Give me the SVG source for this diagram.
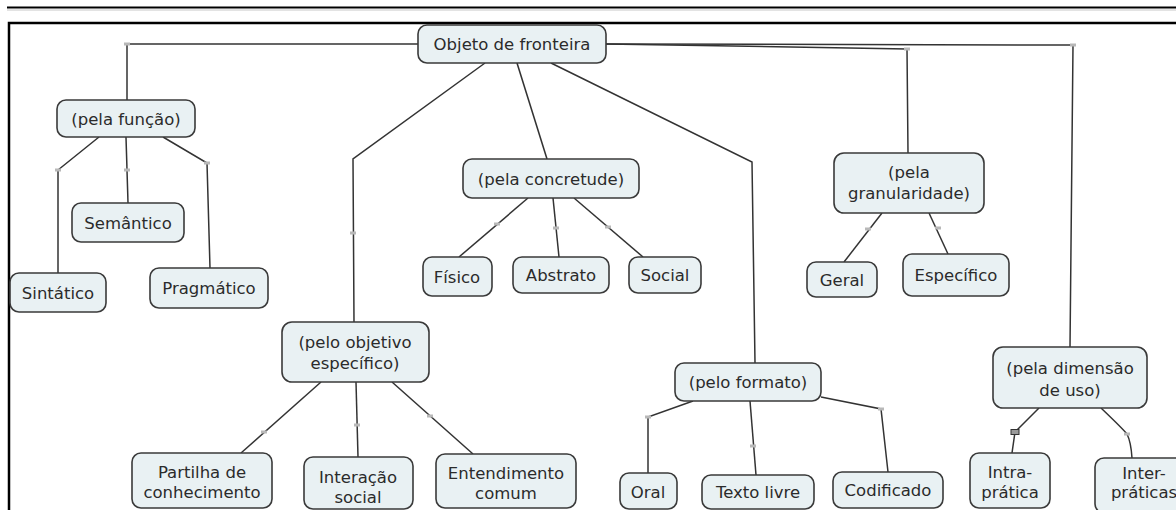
<svg xmlns="http://www.w3.org/2000/svg" width="1176" height="510" viewBox="0 0 1176 510">
<style>
.n rect{fill:#e9f1f3;stroke:#3a3a3a;stroke-width:1.6}
.n text{font-family:"DejaVu Sans",Verdana,sans-serif;font-size:16.5px;fill:#2b2b2b;text-anchor:middle;dominant-baseline:central}
.c{fill:none;stroke:#333;stroke-width:1.5}
.lp{fill:#b8b8b8;stroke:none}
</style>
<rect x="0" y="0" width="1176" height="510" fill="#ffffff"/>
<line x1="7" y1="7.5" x2="1176" y2="7.5" stroke="#000" stroke-width="2"/>
<line x1="7" y1="10" x2="1176" y2="10" stroke="#c8c8c8" stroke-width="1"/>
<rect x="9" y="23" width="1200" height="520" fill="none" stroke="#000" stroke-width="2.5"/>

<g id="connectors">
<polyline class="c" points="418,44 127,44 127,100"/>
<polyline class="c" points="485,63 353,159 354,322"/>
<polyline class="c" points="517,63 547,159"/>
<polyline class="c" points="551,63 752,162 755,363"/>
<polyline class="c" points="606,44 907,49 908,153"/>
<polyline class="c" points="606,44 1073,45 1070,347"/>
<polyline class="c" points="99,137 58,170 58,273"/>
<polyline class="c" points="126,137 128,203"/>
<polyline class="c" points="163,137 207,163 210,268"/>
<polyline class="c" points="528,198 459,257"/>
<polyline class="c" points="553,198 559,257"/>
<polyline class="c" points="574,198 643,257"/>
<polyline class="c" points="882,213 844,262"/>
<polyline class="c" points="929,213 948,254"/>
<polyline class="c" points="321,382 241,453"/>
<polyline class="c" points="356,382 358,457"/>
<polyline class="c" points="392,382 473,454"/>
<polyline class="c" points="693,401 648,417 648,473"/>
<polyline class="c" points="750,401 756,475"/>
<polyline class="c" points="821,397 881,409 888,472"/>
<polyline class="c" points="1039,408 1015,432 1012,453"/>
<path class="c" d="M1101,408 Q1122,428 1127,434 Q1131,442 1132,458"/>
<rect class="lp" x="124" y="42.5" width="6" height="3"/>
<rect class="lp" x="350" y="231.5" width="6" height="3"/>
<rect class="lp" x="904" y="47.5" width="6" height="3"/>
<rect class="lp" x="1070" y="43.5" width="6" height="3"/>
<rect class="lp" x="55" y="168.5" width="6" height="3"/>
<rect class="lp" x="124" y="168.5" width="6" height="3"/>
<rect class="lp" x="204" y="161.5" width="6" height="3"/>
<rect class="lp" x="494" y="222.5" width="6" height="3"/>
<rect class="lp" x="553" y="226.5" width="6" height="3"/>
<rect class="lp" x="605" y="225.5" width="6" height="3"/>
<rect class="lp" x="865" y="227.5" width="6" height="3"/>
<rect class="lp" x="935" y="226.5" width="6" height="3"/>
<rect class="lp" x="261" y="430.5" width="6" height="3"/>
<rect class="lp" x="354" y="423.5" width="6" height="3"/>
<rect class="lp" x="427" y="414.5" width="6" height="3"/>
<rect class="lp" x="645" y="415.5" width="6" height="3"/>
<rect class="lp" x="750" y="444.5" width="6" height="3"/>
<rect class="lp" x="878" y="407.5" width="6" height="3"/>
<rect class="lp" x="1124" y="432.5" width="6" height="3"/>
<rect x="1011" y="429.5" width="8" height="5" fill="#9a9a9a" stroke="#333" stroke-width="1"/>
</g>

<g id="n_objeto" class="n"><rect x="418" y="25" width="188" height="38" rx="9"/><text x="512" y="44">Objeto de fronteira</text></g>
<g id="n_funcao" class="n"><rect x="57" y="100" width="138" height="37" rx="9"/><text x="126" y="119">(pela função)</text></g>
<g id="n_semantico" class="n"><rect x="72" y="203" width="112" height="39" rx="9"/><text x="128" y="223">Semântico</text></g>
<g id="n_sintatico" class="n"><rect x="10" y="273" width="96" height="39" rx="9"/><text x="58" y="293">Sintático</text></g>
<g id="n_pragmatico" class="n"><rect x="150" y="268" width="118" height="40" rx="9"/><text x="209" y="288">Pragmático</text></g>
<g id="n_concretude" class="n"><rect x="463" y="159" width="176" height="39" rx="9"/><text x="551" y="179">(pela concretude)</text></g>
<g id="n_fisico" class="n"><rect x="423" y="257" width="69" height="39" rx="9"/><text x="457" y="277">Físico</text></g>
<g id="n_abstrato" class="n"><rect x="513" y="257" width="96" height="36" rx="9"/><text x="561" y="275">Abstrato</text></g>
<g id="n_social" class="n"><rect x="629" y="257" width="72" height="36" rx="9"/><text x="665" y="275">Social</text></g>
<g id="n_granularidade" class="n"><rect x="834" y="153" width="150" height="60" rx="10"/><text x="909" y="172">(pela</text><text x="909" y="193">granularidade)</text></g>
<g id="n_geral" class="n"><rect x="807" y="262" width="70" height="35" rx="9"/><text x="842" y="280">Geral</text></g>
<g id="n_especifico" class="n"><rect x="903" y="254" width="106" height="42" rx="9"/><text x="956" y="275">Específico</text></g>
<g id="n_objetivo" class="n"><rect x="282" y="322" width="147" height="60" rx="10"/><text x="355" y="342">(pelo objetivo</text><text x="355" y="363">específico)</text></g>
<g id="n_partilha" class="n"><rect x="132" y="453" width="140" height="55" rx="9"/><text x="202" y="472">Partilha de</text><text x="202" y="492">conhecimento</text></g>
<g id="n_interacao" class="n"><rect x="304" y="457" width="109" height="52" rx="9"/><text x="358" y="477">Interação</text><text x="358" y="497">social</text></g>
<g id="n_entendimento" class="n"><rect x="436" y="454" width="140" height="54" rx="9"/><text x="506" y="473">Entendimento</text><text x="506" y="493">comum</text></g>
<g id="n_formato" class="n"><rect x="675" y="363" width="146" height="38" rx="9"/><text x="748" y="382">(pelo formato)</text></g>
<g id="n_oral" class="n"><rect x="620" y="473" width="57" height="36" rx="9"/><text x="648" y="492">Oral</text></g>
<g id="n_texto" class="n"><rect x="702" y="475" width="112" height="34" rx="9"/><text x="758" y="492">Texto livre</text></g>
<g id="n_codificado" class="n"><rect x="833" y="472" width="110" height="36" rx="9"/><text x="888" y="490">Codificado</text></g>
<g id="n_dimensao" class="n"><rect x="993" y="347" width="154" height="61" rx="10"/><text x="1070" y="368">(pela dimensão</text><text x="1070" y="390">de uso)</text></g>
<g id="n_intra" class="n"><rect x="970" y="453" width="80" height="55" rx="9"/><text x="1010" y="472">Intra-</text><text x="1010" y="492">prática</text></g>
<g id="n_inter" class="n"><rect x="1095" y="458" width="98" height="55" rx="9"/><text x="1144" y="473">Inter-</text><text x="1144" y="492">práticas</text></g>
</svg>
